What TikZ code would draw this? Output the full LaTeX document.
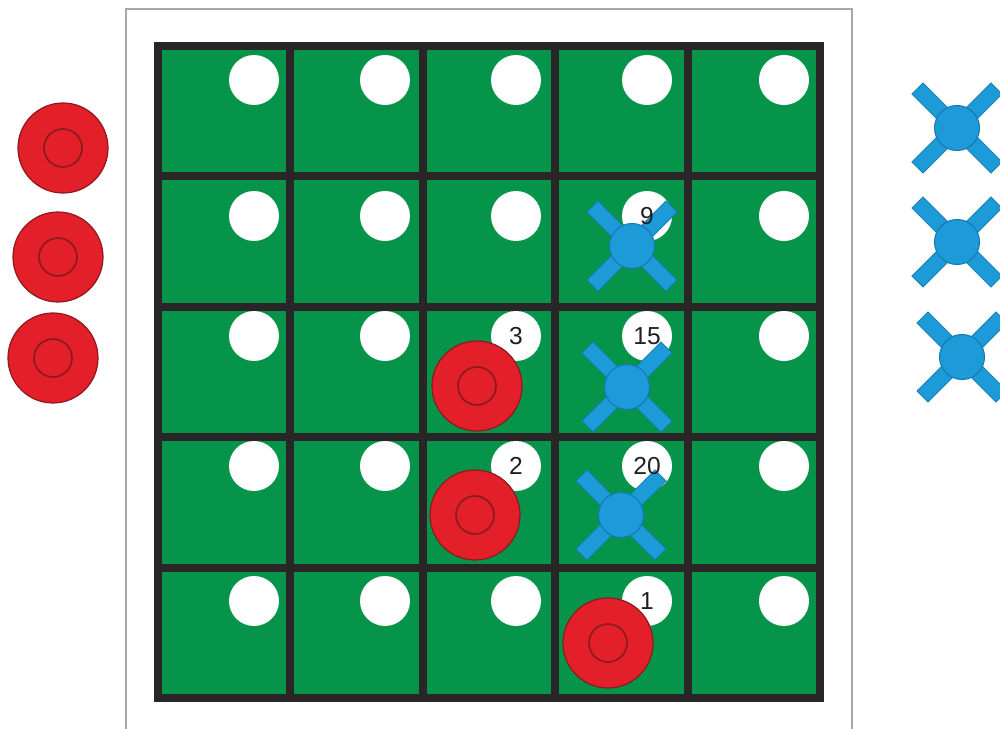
\documentclass[tikz,border=0pt]{standalone}
\usepackage{fontspec}
\setmainfont{Liberation Sans}
\usepackage{tikz}
\definecolor{boardgreen}{HTML}{06944A}
\definecolor{gridgray}{HTML}{2A2526}
\definecolor{framegray}{HTML}{A6A6A6}
\definecolor{piecered}{HTML}{E3202A}
\definecolor{redline}{HTML}{8E1A1F}
\definecolor{pieceblue}{HTML}{1C9BD8}
\definecolor{blueline}{HTML}{1878B0}
\definecolor{numgray}{HTML}{231F20}

\begin{document}
\begin{tikzpicture}[x=0.02cm, y=-0.02cm,
    gridline/.style={draw=gridgray, line width=4.5pt},
    hole/.style={circle, fill=white, minimum size=1cm, inner sep=0pt},
    num/.style={font=\fontsize{14}{14}\selectfont, text=numgray, inner sep=0pt},
    redpiece/.style={circle, fill=piecered, draw=redline, line width=0.7pt,
                     minimum size=1.8cm, inner sep=0pt,
                     path picture={\draw[redline, line width=1pt]
                       (path picture bounding box.center) circle (0.38cm);}},
    bluearm/.style={fill=pieceblue, draw=blueline, line width=0.4pt},
    bluehub/.style={circle, fill=pieceblue, draw=blueline, line width=0.6pt,
                    minimum size=0.9cm, inner sep=0pt},
    pics/bluepiece/.style={code={
      \draw[bluearm, rotate=45]  (-56,-7.8) rectangle (56,7.8);
      \draw[bluearm, rotate=-45] (-56,-7.8) rectangle (56,7.8);
      \node[bluehub] (-hub) at (0,0) {};
    }}
  ]
  \clip (0,0) rectangle (1000,729);
  \fill[white] (0,0) rectangle (1000,729);

  % sheet and board
  \draw[framegray, line width=0.6pt] (126,740) |- (852,9) -- (852,740);
  \fill[boardgreen] (158,46) rectangle (820,698);
  \foreach \i in {0,...,5} {
    \draw[gridline] ({158+132.4*\i},46) -- ({158+132.4*\i},698);
    \draw[gridline] (158,{46+130.4*\i}) -- (820,{46+130.4*\i});
  }
  \draw[gridline, line join=miter] (158,46) rectangle (820,698);

  % holes
  \foreach \y [count=\r] in {80,216,336,466,601}
    \foreach \x [count=\c] in {254,385,516,647,784}
      \node[hole] (h\r\c) at (\x,\y) {};

  % red pieces
  \node[redpiece] (r1) at (63,148)  {};
  \node[redpiece] (r2) at (58,257)  {};
  \node[redpiece] (r3) at (53,358)  {};
  \node[redpiece] (r4) at (477,386) {};
  \node[redpiece] (r5) at (475,515) {};
  \node[redpiece] (r6) at (608,643) {};

  % blue pieces
  \pic (b1) at (632,246) {bluepiece};
  \pic (b2) at (627,387) {bluepiece};
  \pic (b3) at (621,515) {bluepiece};
  \pic (b4) at (957,128) {bluepiece};
  \pic (b5) at (957,242) {bluepiece};
  \pic (b6) at (962,357) {bluepiece};

  % numbers
  \node[num] (n9)  at (h24) {9};
  \node[num] (n3)  at (h33) {3};
  \node[num] (n15) at (h34) {15};
  \node[num] (n2)  at (h43) {2};
  \node[num] (n20) at (h44) {20};
  \node[num] (n1)  at (h54) {1};
\end{tikzpicture}
\end{document}
